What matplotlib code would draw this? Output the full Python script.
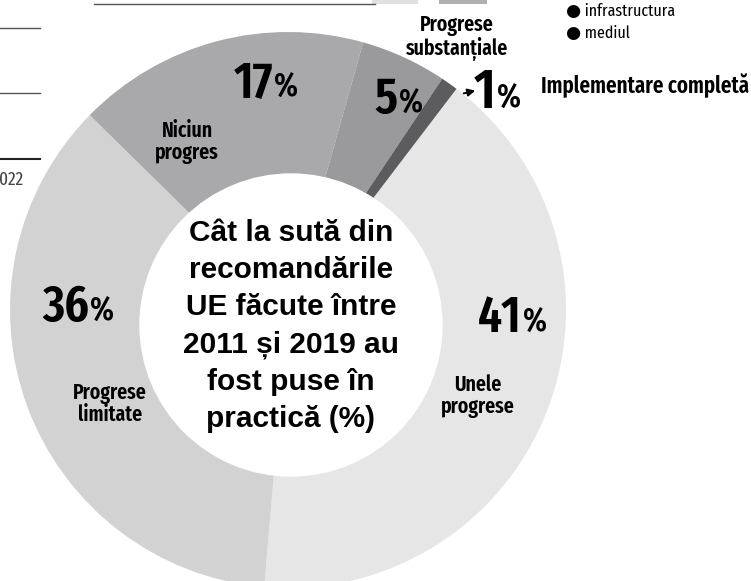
import matplotlib
matplotlib.use("Agg")
import matplotlib.pyplot as plt
from matplotlib.patches import Circle, Rectangle

# data
labels = ["Unele\nprogrese", "Progrese\nlimitate", "Niciun\nprogres",
          "Progrese\nsubstanțiale", "Implementare completă"]
values = [41, 36, 17, 5, 1]
colors = ["#e6e6e7", "#d2d2d3", "#a9a9ab", "#9a9a9c", "#5c5c5e"]
center_title = "Cât la sută din\nrecomandările\nUE făcute între\n2011 și 2019 au\nfost puse în\npractică (%)"
legend_items = ["infrastructura", "mediul"]

W, H = 751, 581
fig = plt.figure(figsize=(W / 100, H / 100), dpi=100)
ax = fig.add_axes([0, 0, 1, 1])

def py(y):
    # pixel row -> data y
    return H - y

cond = ["Fira Sans Extra Condensed", "DejaVu Sans"]
arial = ["Liberation Sans", "DejaVu Sans"]

# donut ring
ax.pie(values, colors=colors, startangle=52.7, counterclock=False,
       center=(288, py(310)), radius=278, frame=True,
       wedgeprops=dict(linewidth=0))
ax.set_xlim(0, W)
ax.set_ylim(0, H)
ax.set_aspect("equal")
ax.axis("off")
ax.add_patch(Circle((291, py(325)), 151, color="white", zorder=3))

ax.text(291, py(326), center_title, ha="center", va="center", zorder=4,
        fontsize=21.5, fontweight="bold", family=arial, linespacing=1.42)

# percentage labels: big number + smaller %
pct_pos = {41: (522, 332), 36: (89, 321), 17: (273, 97), 5: (398, 113), 1: (496, 108)}
for v in values:
    x, y = pct_pos[v]
    ax.text(x, py(y), str(v), ha="right", va="baseline",
            fontsize=41 if v == 1 else 37,
            fontweight=600, family=cond, zorder=5)
    ax.text(x + 1, py(y), "%", ha="left", va="baseline", fontsize=24,
            fontweight=600, family=cond, zorder=5)

name_pos = [(478, 396), (110, 404), (187, 142), (457, 38)]
for lab, (x, y) in zip(labels[:4], name_pos):
    ax.text(x, py(y), lab, ha="center", va="center", fontsize=15.5,
            fontweight=600, family=cond, linespacing=1.05, zorder=5)
ax.text(541, py(93), labels[4], ha="left", va="baseline", fontsize=16.4,
        fontweight=600, family=cond, zorder=5)
ax.annotate("", xy=(461, py(94)), xytext=(478, py(90)), zorder=5,
            arrowprops=dict(arrowstyle="<|-", color="black", lw=1.4,
                            mutation_scale=11))

# fragments of the surrounding infographic
for y, c, lw in [(28, "#555555", 1), (93, "#555555", 1), (159, "#222222", 1.5)]:
    ax.plot([0, 40], [py(y), py(y)], color=c, lw=lw)
ax.text(-1, py(185), "022", ha="left", va="baseline", fontsize=13.5,
        color="#444444", family=cond)
ax.plot([94, 375], [py(4), py(4)], color="#555555", lw=1)
ax.add_patch(Rectangle((372, py(4)), 46, 4, color="#e0e0e0", lw=0))
ax.add_patch(Rectangle((439, py(4)), 48, 4, color="#b0b0b0", lw=0))
for i, item in enumerate(legend_items):
    y = 11 + i * 22
    ax.text(566, py(y), "● " + item, ha="left", va="center", fontsize=12.5,
            family=cond)

fig.savefig("out.png", dpi=100)
